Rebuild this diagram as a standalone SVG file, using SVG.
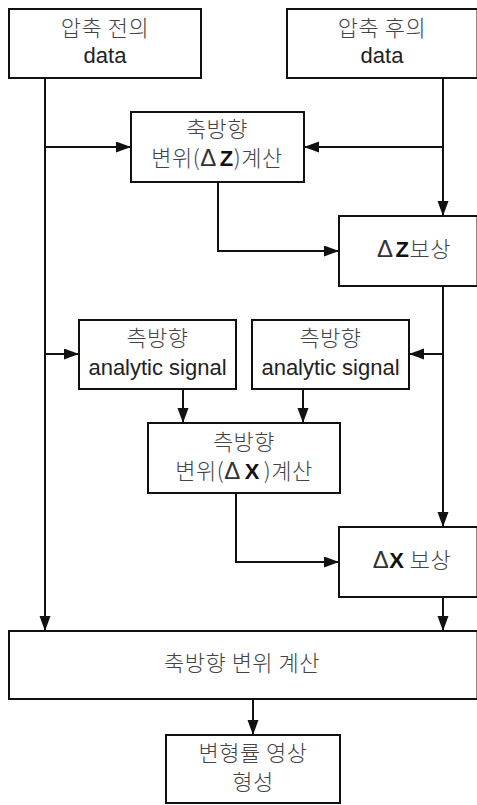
<svg xmlns="http://www.w3.org/2000/svg" width="477" height="805" viewBox="0 0 477 805">
<style>
.box{fill:#fff;stroke:#111;stroke-width:2}
.ln{fill:none;stroke:#111;stroke-width:2}
.t{font-family:"Liberation Sans","Noto Sans CJK KR",sans-serif;font-size:22px;fill:#222;text-anchor:middle}
.k{font-family:"Noto Sans CJK KR","Liberation Sans",sans-serif;font-size:22px;font-weight:300;letter-spacing:0.5px;fill:#444;text-anchor:middle}
.b{font-family:"Liberation Sans",sans-serif;font-weight:bold;fill:#111}
.d{font-family:"Liberation Sans",sans-serif;font-weight:normal;font-size:24px;fill:#333}
</style>
<defs>
<marker id="ah" markerUnits="userSpaceOnUse" markerWidth="16" markerHeight="12" refX="14" refY="5.5" orient="auto">
<path d="M0,0 L15,5.5 L0,11 Z" fill="#111"/>
</marker>
</defs>
<g id="connectors">
<path class="ln" d="M45,78 V630" marker-end="url(#ah)"/>
<path class="ln" d="M45,147 H130" marker-end="url(#ah)"/>
<path class="ln" d="M45,354 H78" marker-end="url(#ah)"/>
<path class="ln" d="M443,78 V215" marker-end="url(#ah)"/>
<path class="ln" d="M443,147 H305" marker-end="url(#ah)"/>
<path class="ln" d="M218,182 V251 H338" marker-end="url(#ah)"/>
<path class="ln" d="M443,286 V526" marker-end="url(#ah)"/>
<path class="ln" d="M443,354 H410" marker-end="url(#ah)"/>
<path class="ln" d="M183,389 V422" marker-end="url(#ah)"/>
<path class="ln" d="M303,389 V422" marker-end="url(#ah)"/>
<path class="ln" d="M236,493 V562 H338" marker-end="url(#ah)"/>
<path class="ln" d="M443,597 V630" marker-end="url(#ah)"/>
<path class="ln" d="M253,699 V734" marker-end="url(#ah)"/>
</g>
<g id="n1">
<rect class="box" x="9" y="9" width="192" height="69"/>
<text class="k" x="105" y="36">압축 전의</text>
<text class="t" x="105" y="63">data</text>
</g>
<g id="n2">
<rect class="box" x="287" y="9" width="190.5" height="69"/>
<text class="k" x="382" y="36">압축 후의</text>
<text class="t" x="382" y="63">data</text>
</g>
<g id="n3">
<rect class="box" x="131" y="112" width="173" height="70"/>
<text class="k" x="217" y="137">축방향</text>
<text class="k" x="217" y="166">변위(<tspan class="d">Δ</tspan><tspan class="b" dx="3">Z</tspan>)계산</text>
</g>
<g id="n4">
<rect class="box" x="339" y="216" width="138.5" height="70"/>
<text class="k" x="414" y="257"><tspan class="d">Δ</tspan><tspan class="b" dx="2">Z</tspan>보상</text>
</g>
<g id="n5">
<rect class="box" x="79" y="320" width="157" height="69"/>
<text class="k" x="157.5" y="346">측방향</text>
<text class="t" x="157.5" y="375">analytic signal</text>
</g>
<g id="n6">
<rect class="box" x="252" y="320" width="157" height="69"/>
<text class="k" x="330.5" y="346">측방향</text>
<text class="t" x="330.5" y="375">analytic signal</text>
</g>
<g id="n7">
<rect class="box" x="148" y="423" width="192" height="70"/>
<text class="k" x="244" y="450">측방향</text>
<text class="k" x="244" y="479">변위(<tspan class="d">Δ</tspan><tspan class="b" dx="4">X</tspan><tspan dx="4">)계산</tspan></text>
</g>
<g id="n8">
<rect class="box" x="339" y="527" width="138.5" height="70"/>
<text class="k" x="412" y="568"><tspan class="d">Δ</tspan><tspan class="b">X</tspan> 보상</text>
</g>
<g id="n9">
<rect class="box" x="9" y="631" width="468.5" height="68"/>
<text class="k" x="242" y="671">축방향 변위 계산</text>
</g>
<g id="n10">
<rect class="box" x="166" y="735" width="174" height="68"/>
<text class="k" x="253" y="761">변형률 영상</text>
<text class="k" x="253" y="790">형성</text>
</g>
</svg>
